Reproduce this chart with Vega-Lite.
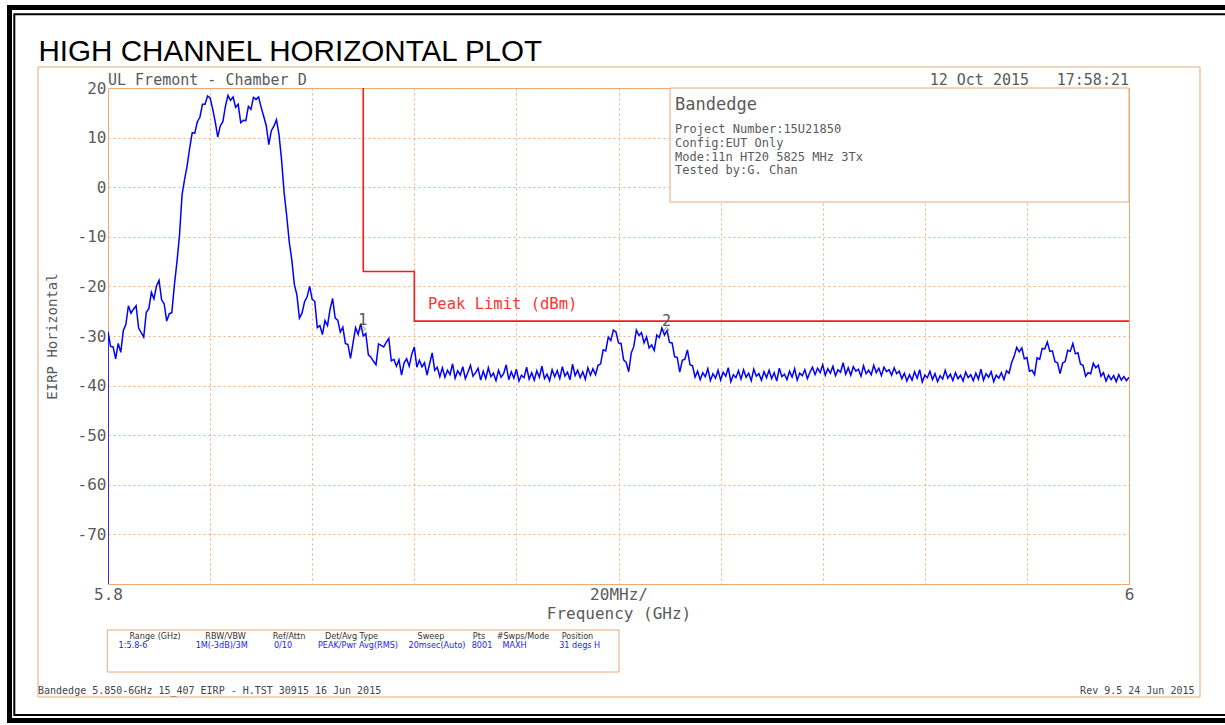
{
"$schema":"https://vega.github.io/schema/vega-lite/v6.json",
"width":1021,"height":496,
"autosize":{"type":"none"},
"padding":{"left":108,"top":88,"right":96,"bottom":141},
"background":"white",
"config":{
 "view":{"stroke":"#e9a877","strokeWidth":1},
 "axis":{"labelFont":"DejaVu Sans Mono","labelFontSize":16,"labelColor":"#5a5a5a","titleFont":"DejaVu Sans Mono","titleFontWeight":"normal","titleColor":"#5a5a5a","grid":true,"gridColor":"#f2ae78","gridDash":[2,3],"gridWidth":1,"ticks":false,"tickSize":0,"domain":false}
},
"datasets":{
"trace":[
{"f":5.8,"p":-80},{"f":5.8,"p":-29.1},{"f":5.8005,"p":-32.1},{"f":5.801,"p":-32.2},{"f":5.8015,"p":-34.6},{"f":5.802,"p":-31.5},{"f":5.8025,"p":-33.3},{"f":5.803,"p":-28.9},{"f":5.8035,"p":-27.7},{"f":5.804,"p":-23.9},{"f":5.8045,"p":-25.4},
{"f":5.805,"p":-24.6},{"f":5.8055,"p":-23.9},{"f":5.806,"p":-28.4},{"f":5.8065,"p":-29.3},{"f":5.807,"p":-30.2},{"f":5.8075,"p":-25.2},{"f":5.808,"p":-24.5},{"f":5.8085,"p":-21.2},{"f":5.809,"p":-22.5},{"f":5.8095,"p":-19.9},
{"f":5.81,"p":-18.8},{"f":5.8105,"p":-22.7},{"f":5.811,"p":-23.5},{"f":5.8115,"p":-27},{"f":5.812,"p":-25.5},{"f":5.8125,"p":-25.3},{"f":5.813,"p":-19.8},{"f":5.8135,"p":-15.1},{"f":5.814,"p":-9.8},{"f":5.8145,"p":-1.6},
{"f":5.815,"p":1.6},{"f":5.8155,"p":4.3},{"f":5.816,"p":7.9},{"f":5.8165,"p":11.0},{"f":5.817,"p":10.9},{"f":5.8175,"p":13.2},{"f":5.818,"p":14.1},{"f":5.8185,"p":16.7},{"f":5.819,"p":16.7},{"f":5.8195,"p":18.4},
{"f":5.82,"p":18.0},{"f":5.8205,"p":15.8},{"f":5.821,"p":13.2},{"f":5.8215,"p":10.1},{"f":5.822,"p":12.4},{"f":5.8225,"p":13.2},{"f":5.823,"p":16.3},{"f":5.8235,"p":18.5},{"f":5.824,"p":17.5},{"f":5.8245,"p":18.2},
{"f":5.825,"p":16.1},{"f":5.8255,"p":16.7},{"f":5.826,"p":13.0},{"f":5.8265,"p":13.5},{"f":5.827,"p":13.4},{"f":5.8275,"p":16.3},{"f":5.828,"p":15.7},{"f":5.8285,"p":18.1},{"f":5.829,"p":17.7},{"f":5.8295,"p":18.2},
{"f":5.83,"p":16.1},{"f":5.8305,"p":14.3},{"f":5.831,"p":12.4},{"f":5.8315,"p":8.6},{"f":5.832,"p":11.4},{"f":5.8325,"p":12.3},{"f":5.833,"p":13.6},{"f":5.8335,"p":10.6},{"f":5.834,"p":5.5},{"f":5.8345,"p":-1.1},
{"f":5.835,"p":-5.7},{"f":5.8355,"p":-11.0},{"f":5.836,"p":-14.6},{"f":5.8365,"p":-19.6},{"f":5.837,"p":-21.7},{"f":5.8375,"p":-26.4},{"f":5.838,"p":-25.4},{"f":5.8385,"p":-23.1},{"f":5.839,"p":-22.1},{"f":5.8395,"p":-20.0},
{"f":5.84,"p":-22.6},{"f":5.8405,"p":-23.0},{"f":5.841,"p":-28.3},{"f":5.8415,"p":-27.9},{"f":5.842,"p":-29.7},{"f":5.8425,"p":-26.9},{"f":5.843,"p":-27.9},{"f":5.8435,"p":-24.6},{"f":5.844,"p":-22.4},{"f":5.8445,"p":-26.4},
{"f":5.845,"p":-26.8},{"f":5.8455,"p":-29.2},{"f":5.846,"p":-28.2},{"f":5.8465,"p":-31.5},{"f":5.847,"p":-31.7},{"f":5.8475,"p":-34.5},{"f":5.848,"p":-31.4},{"f":5.8485,"p":-28.3},{"f":5.849,"p":-29.7},{"f":5.8495,"p":-27.5},
{"f":5.85,"p":-30.0},{"f":5.8505,"p":-29.5},{"f":5.851,"p":-33.8},{"f":5.8515,"p":-34.3},{"f":5.852,"p":-35.1},{"f":5.8525,"p":-35.8},{"f":5.853,"p":-31.6},{"f":5.8535,"p":-31.9},{"f":5.854,"p":-32.2},{"f":5.8545,"p":-31.3},
{"f":5.855,"p":-30.5},{"f":5.8555,"p":-35.0},{"f":5.856,"p":-34.7},{"f":5.8565,"p":-36.1},{"f":5.857,"p":-34.8},{"f":5.8575,"p":-37.9},{"f":5.858,"p":-35.4},{"f":5.8585,"p":-34.6},{"f":5.859,"p":-36.1},{"f":5.8595,"p":-33.7},
{"f":5.86,"p":-32.2},{"f":5.8605,"p":-36.3},{"f":5.861,"p":-34.9},{"f":5.8615,"p":-36.2},{"f":5.862,"p":-35.4},{"f":5.8625,"p":-37.9},{"f":5.863,"p":-35.6},{"f":5.8635,"p":-33.4},{"f":5.864,"p":-36.9},{"f":5.8645,"p":-36.3},
{"f":5.865,"p":-38.2},{"f":5.8655,"p":-36.4},{"f":5.866,"p":-38.3},{"f":5.8665,"p":-36.9},{"f":5.867,"p":-37.8},{"f":5.8675,"p":-35.6},{"f":5.868,"p":-38.5},{"f":5.8685,"p":-37.0},{"f":5.869,"p":-37.9},{"f":5.8695,"p":-36.2},
{"f":5.87,"p":-38.6},{"f":5.8705,"p":-37.3},{"f":5.871,"p":-35.9},{"f":5.8715,"p":-38.1},{"f":5.872,"p":-37.4},{"f":5.8725,"p":-36.5},{"f":5.873,"p":-38.9},{"f":5.8735,"p":-37.1},{"f":5.874,"p":-38.6},{"f":5.8745,"p":-36.4},
{"f":5.875,"p":-38.2},{"f":5.8755,"p":-37.5},{"f":5.876,"p":-39.0},{"f":5.8765,"p":-36.9},{"f":5.877,"p":-38.3},{"f":5.8775,"p":-37.6},{"f":5.878,"p":-35.8},{"f":5.8785,"p":-38.8},{"f":5.879,"p":-37.2},{"f":5.8795,"p":-38.5},
{"f":5.88,"p":-36.7},{"f":5.8805,"p":-39.1},{"f":5.881,"p":-37.9},{"f":5.8815,"p":-38.4},{"f":5.882,"p":-36.3},{"f":5.8825,"p":-38.7},{"f":5.883,"p":-37.4},{"f":5.8835,"p":-38.9},{"f":5.884,"p":-37.0},{"f":5.8845,"p":-38.3},
{"f":5.885,"p":-36.1},{"f":5.8855,"p":-38.6},{"f":5.886,"p":-37.7},{"f":5.8865,"p":-39.0},{"f":5.887,"p":-36.8},{"f":5.8875,"p":-38.2},{"f":5.888,"p":-37.0},{"f":5.8885,"p":-38.6},{"f":5.889,"p":-36.2},{"f":5.8895,"p":-38.1},
{"f":5.89,"p":-37.3},{"f":5.8905,"p":-38.8},{"f":5.891,"p":-35.7},{"f":5.8915,"p":-38.0},{"f":5.892,"p":-36.9},{"f":5.8925,"p":-38.4},{"f":5.893,"p":-37.2},{"f":5.8935,"p":-38.7},{"f":5.894,"p":-36.4},{"f":5.8945,"p":-37.9},
{"f":5.895,"p":-36.6},{"f":5.8955,"p":-37.8},{"f":5.896,"p":-35.9},{"f":5.8965,"p":-35.6},{"f":5.897,"p":-32.8},{"f":5.8975,"p":-33.0},{"f":5.898,"p":-30.2},{"f":5.8985,"p":-30.9},{"f":5.899,"p":-28.8},{"f":5.8995,"p":-29.2},
{"f":5.9,"p":-31.4},{"f":5.9005,"p":-31.5},{"f":5.901,"p":-34.8},{"f":5.9015,"p":-35.3},{"f":5.902,"p":-37.2},{"f":5.9025,"p":-33.4},{"f":5.903,"p":-32.1},{"f":5.9035,"p":-28.8},{"f":5.904,"p":-29.9},{"f":5.9045,"p":-29.3},
{"f":5.905,"p":-31.4},{"f":5.9055,"p":-30.2},{"f":5.906,"p":-32.4},{"f":5.9065,"p":-31.8},{"f":5.907,"p":-32.9},{"f":5.9075,"p":-29.8},{"f":5.908,"p":-30.3},{"f":5.9085,"p":-28.4},{"f":5.909,"p":-29.8},{"f":5.9095,"p":-28.9},
{"f":5.91,"p":-31.3},{"f":5.9105,"p":-31.4},{"f":5.911,"p":-34.2},{"f":5.9115,"p":-34.3},{"f":5.912,"p":-37.3},{"f":5.9125,"p":-34.9},{"f":5.913,"p":-34.7},{"f":5.9135,"p":-32.8},{"f":5.914,"p":-35.8},{"f":5.9145,"p":-36.0},
{"f":5.915,"p":-38.3},{"f":5.9155,"p":-37.1},{"f":5.916,"p":-38.8},{"f":5.9165,"p":-37.4},{"f":5.917,"p":-38.2},{"f":5.9175,"p":-36.6},{"f":5.918,"p":-39.0},{"f":5.9185,"p":-37.6},{"f":5.919,"p":-38.5},{"f":5.9195,"p":-36.9},
{"f":5.92,"p":-38.9},{"f":5.9205,"p":-37.3},{"f":5.921,"p":-38.1},{"f":5.9215,"p":-36.4},{"f":5.922,"p":-39.2},{"f":5.9225,"p":-37.8},{"f":5.923,"p":-38.4},{"f":5.9235,"p":-37.0},{"f":5.924,"p":-38.7},{"f":5.9245,"p":-36.8},
{"f":5.925,"p":-38.3},{"f":5.9255,"p":-37.5},{"f":5.926,"p":-39.0},{"f":5.9265,"p":-36.7},{"f":5.927,"p":-38.1},{"f":5.9275,"p":-37.6},{"f":5.928,"p":-38.9},{"f":5.9285,"p":-37.2},{"f":5.929,"p":-38.4},{"f":5.9295,"p":-36.9},
{"f":5.93,"p":-38.6},{"f":5.9305,"p":-37.4},{"f":5.931,"p":-39.1},{"f":5.9315,"p":-36.5},{"f":5.932,"p":-38.2},{"f":5.9325,"p":-37.7},{"f":5.933,"p":-38.8},{"f":5.9335,"p":-37.1},{"f":5.934,"p":-38.3},{"f":5.9345,"p":-36.6},
{"f":5.935,"p":-38.9},{"f":5.9355,"p":-37.5},{"f":5.936,"p":-38.0},{"f":5.9365,"p":-36.8},{"f":5.937,"p":-38.6},{"f":5.9375,"p":-37.3},{"f":5.938,"p":-36.3},{"f":5.9385,"p":-37.8},{"f":5.939,"p":-36.5},{"f":5.9395,"p":-37.4},
{"f":5.94,"p":-35.8},{"f":5.9405,"p":-37.9},{"f":5.941,"p":-36.6},{"f":5.9415,"p":-37.5},{"f":5.942,"p":-36.1},{"f":5.9425,"p":-38.0},{"f":5.943,"p":-36.8},{"f":5.9435,"p":-37.3},{"f":5.944,"p":-35.4},{"f":5.9445,"p":-37.7},
{"f":5.945,"p":-36.4},{"f":5.9455,"p":-37.9},{"f":5.946,"p":-36.2},{"f":5.9465,"p":-37.1},{"f":5.947,"p":-36.7},{"f":5.9475,"p":-38.1},{"f":5.948,"p":-36.0},{"f":5.9485,"p":-37.6},{"f":5.949,"p":-36.9},{"f":5.9495,"p":-37.8},
{"f":5.95,"p":-35.9},{"f":5.9505,"p":-37.4},{"f":5.951,"p":-36.5},{"f":5.9515,"p":-38.0},{"f":5.952,"p":-36.3},{"f":5.9525,"p":-37.2},{"f":5.953,"p":-36.8},{"f":5.9535,"p":-37.9},{"f":5.954,"p":-36.4},{"f":5.9545,"p":-37.6},
{"f":5.955,"p":-37.1},{"f":5.9555,"p":-38.6},{"f":5.956,"p":-37.5},{"f":5.9565,"p":-39.1},{"f":5.957,"p":-37.8},{"f":5.9575,"p":-38.9},{"f":5.958,"p":-37.2},{"f":5.9585,"p":-38.5},{"f":5.959,"p":-36.8},{"f":5.9595,"p":-39.3},
{"f":5.96,"p":-37.9},{"f":5.9605,"p":-38.4},{"f":5.961,"p":-37.1},{"f":5.9615,"p":-38.8},{"f":5.962,"p":-37.6},{"f":5.9625,"p":-39.2},{"f":5.963,"p":-38.0},{"f":5.9635,"p":-38.7},{"f":5.964,"p":-36.9},{"f":5.9645,"p":-38.5},
{"f":5.965,"p":-37.7},{"f":5.9655,"p":-39.0},{"f":5.966,"p":-37.4},{"f":5.9665,"p":-38.6},{"f":5.967,"p":-37.9},{"f":5.9675,"p":-39.1},{"f":5.968,"p":-37.3},{"f":5.9685,"p":-38.4},{"f":5.969,"p":-37.8},{"f":5.9695,"p":-39.0},
{"f":5.97,"p":-37.5},{"f":5.9705,"p":-38.7},{"f":5.971,"p":-36.7},{"f":5.9715,"p":-38.9},{"f":5.972,"p":-37.6},{"f":5.9725,"p":-38.3},{"f":5.973,"p":-37.2},{"f":5.9735,"p":-39.2},{"f":5.974,"p":-37.9},{"f":5.9745,"p":-38.5},
{"f":5.975,"p":-37.4},{"f":5.9755,"p":-38.8},{"f":5.976,"p":-37.0},{"f":5.9765,"p":-37.5},{"f":5.977,"p":-35.4},{"f":5.9775,"p":-34.1},{"f":5.978,"p":-32.3},{"f":5.9785,"p":-33.2},{"f":5.979,"p":-32.4},{"f":5.9795,"p":-34.6},
{"f":5.98,"p":-34.3},{"f":5.9805,"p":-37.1},{"f":5.981,"p":-36.9},{"f":5.9815,"p":-37.8},{"f":5.982,"p":-34.4},{"f":5.9825,"p":-34.7},{"f":5.983,"p":-32.5},{"f":5.9835,"p":-32.6},{"f":5.984,"p":-31.2},{"f":5.9845,"p":-33.1},
{"f":5.985,"p":-33.0},{"f":5.9855,"p":-35.2},{"f":5.986,"p":-35.4},{"f":5.9865,"p":-37.6},{"f":5.987,"p":-35.5},{"f":5.9875,"p":-35.1},{"f":5.988,"p":-32.9},{"f":5.9885,"p":-33.1},{"f":5.989,"p":-31.5},{"f":5.9895,"p":-33.6},
{"f":5.99,"p":-33.4},{"f":5.9905,"p":-35.7},{"f":5.991,"p":-35.9},{"f":5.9915,"p":-38.1},{"f":5.992,"p":-37.4},{"f":5.9925,"p":-37.6},{"f":5.993,"p":-35.5},{"f":5.9935,"p":-36.4},{"f":5.994,"p":-35.9},{"f":5.9945,"p":-38.1},
{"f":5.995,"p":-37.4},{"f":5.9955,"p":-39.1},{"f":5.996,"p":-37.9},{"f":5.9965,"p":-38.8},{"f":5.997,"p":-38.0},{"f":5.9975,"p":-39.2},{"f":5.998,"p":-37.8},{"f":5.9985,"p":-38.9},{"f":5.999,"p":-38.2},{"f":5.9995,"p":-39.0},
{"f":6.0,"p":-38.3}
],
"limit":[{"k":1,"f":5.85,"p":27},{"k":2,"f":5.85,"p":-17},{"k":3,"f":5.86,"p":-17},{"k":4,"f":5.86,"p":-27},{"k":5,"f":6.0,"p":-27}],
"markers":[{"n":"1","f":5.8499,"p":-28.6},{"n":"2","f":5.9094,"p":-28.8}]
},
"layer":[
{"data":{"values":[{}]},"mark":{"type":"rect","filled":false,"color":"black","strokeWidth":5},
 "encoding":{"x":{"datum":5.780705,"type":"quantitative"},"x2":{"datum":6.03},"y":{"datum":36.23,"type":"quantitative"},"y2":{"datum":-107.52}}},
{"data":{"values":[{}]},"mark":{"type":"rect","filled":false,"color":"black","strokeWidth":2},
 "encoding":{"x":{"datum":5.781645,"type":"quantitative"},"x2":{"datum":6.03},"y":{"datum":34.859,"type":"quantitative"},"y2":{"datum":-106.411}}},
{"data":{"values":[{}]},"mark":{"type":"rect","filled":false,"color":"#e9a877","strokeWidth":1},
 "encoding":{"x":{"datum":5.786288,"type":"quantitative"},"x2":{"datum":6.013908},"y":{"datum":24.234,"type":"quantitative"},"y2":{"datum":-102.782}}},
{"data":{"values":[{}]},"mark":{"type":"rect","fill":"white","stroke":"#e9a877","strokeWidth":1},
 "encoding":{"x":{"datum":5.910088,"type":"quantitative"},"x2":{"datum":6.0},"y":{"datum":20,"type":"quantitative"},"y2":{"datum":-2.984}}},
{"data":{"values":[{}]},"mark":{"type":"rect","fill":"white","stroke":"#e9a877","strokeWidth":1},
 "encoding":{"x":{"datum":5.799863,"type":"quantitative"},"x2":{"datum":5.900098},"y":{"datum":-89.274,"type":"quantitative"},"y2":{"datum":-97.742}}},
{"data":{"name":"trace"},"mark":{"type":"line","color":"#0000ff","strokeWidth":1.5,"clip":true},
 "encoding":{
  "x":{"field":"f","type":"quantitative","scale":{"domain":[5.8,6.0],"nice":false,"zero":false},
   "axis":{"title":"Frequency (GHz)","values":[5.8,5.82,5.84,5.86,5.88,5.9,5.92,5.94,5.96,5.98,6.0],
    "labelExpr":"datum.value < 5.801 ? '5.8' : (datum.value > 5.999 ? '6' : (abs(datum.value - 5.9) < 0.001 ? '20MHz/' : ''))",
    "labelPadding":2,"labelFlush":false,"labelOverlap":false,"labelBound":false,"titleFontSize":16,"titlePadding":3}},
  "y":{"field":"p","type":"quantitative","scale":{"domain":[-80,20],"nice":false,"zero":false},
   "axis":{"title":"EIRP Horizontal","values":[-80,-70,-60,-50,-40,-30,-20,-10,0,10,20],
    "labelExpr":"datum.value <= -80 ? '' : '' + datum.value","labelPadding":2,"labelOverlap":false,"titleFontSize":14,"titlePadding":18}}}},
{"data":{"name":"limit"},"mark":{"type":"line","color":"#ff1a1a","strokeWidth":1.6,"clip":true},
 "encoding":{"x":{"field":"f","type":"quantitative"},"y":{"field":"p","type":"quantitative"},"order":{"field":"k"}}},
{"data":{"name":"markers"},"mark":{"type":"point","shape":"diamond","size":30,"filled":false,"color":"#666666","strokeWidth":1},
 "encoding":{"x":{"field":"f","type":"quantitative"},"y":{"field":"p","type":"quantitative"}}},
{"data":{"name":"markers"},"mark":{"type":"text","font":"DejaVu Sans Mono","fontSize":15,"color":"#555555","baseline":"alphabetic","align":"center","dy":-4},
 "encoding":{"x":{"field":"f","type":"quantitative"},"y":{"field":"p","type":"quantitative"},"text":{"field":"n"}}},
{"data":{"values":[{}]},"mark":{"type":"text","text":"HIGH CHANNEL HORIZONTAL PLOT","font":"Liberation Sans","fontSize":29.6,"color":"black","align":"left","baseline":"alphabetic"},
 "encoding":{"x":{"datum":5.78638,"type":"quantitative"},"y":{"datum":25.44,"type":"quantitative"}}},
{"data":{"values":[{}]},"mark":{"type":"text","text":"UL Fremont - Chamber D","font":"DejaVu Sans Mono","fontSize":15,"color":"#5a5a5a","align":"left","baseline":"alphabetic"},
 "encoding":{"x":{"datum":5.8,"type":"quantitative"},"y":{"datum":20.7,"type":"quantitative"}}},
{"data":{"values":[{}]},"mark":{"type":"text","text":"12 Oct 2015","font":"DejaVu Sans Mono","fontSize":15,"color":"#5a5a5a","align":"right","baseline":"alphabetic"},
 "encoding":{"x":{"datum":5.98042,"type":"quantitative"},"y":{"datum":20.7,"type":"quantitative"}}},
{"data":{"values":[{}]},"mark":{"type":"text","text":"17:58:21","font":"DejaVu Sans Mono","fontSize":15,"color":"#5a5a5a","align":"right","baseline":"alphabetic"},
 "encoding":{"x":{"datum":6.0,"type":"quantitative"},"y":{"datum":20.7,"type":"quantitative"}}},
{"data":{"values":[{}]},"mark":{"type":"text","text":"Bandedge","font":"DejaVu Sans Mono","fontSize":17,"color":"#5a5a5a","align":"left","baseline":"alphabetic"},
 "encoding":{"x":{"datum":5.91107,"type":"quantitative"},"y":{"datum":15.56,"type":"quantitative"}}},
{"data":{"values":[{}]},"mark":{"type":"text","text":"Project Number:15U21850","font":"DejaVu Sans Mono","fontSize":12,"color":"#5a5a5a","align":"left","baseline":"alphabetic"},
 "encoding":{"x":{"datum":5.91107,"type":"quantitative"},"y":{"datum":10.83,"type":"quantitative"}}},
{"data":{"values":[{}]},"mark":{"type":"text","text":"Config:EUT Only","font":"DejaVu Sans Mono","fontSize":12,"color":"#5a5a5a","align":"left","baseline":"alphabetic"},
 "encoding":{"x":{"datum":5.91107,"type":"quantitative"},"y":{"datum":8.1,"type":"quantitative"}}},
{"data":{"values":[{}]},"mark":{"type":"text","text":"Mode:11n HT20 5825 MHz 3Tx","font":"DejaVu Sans Mono","fontSize":12,"color":"#5a5a5a","align":"left","baseline":"alphabetic"},
 "encoding":{"x":{"datum":5.91107,"type":"quantitative"},"y":{"datum":5.38,"type":"quantitative"}}},
{"data":{"values":[{}]},"mark":{"type":"text","text":"Tested by:G. Chan","font":"DejaVu Sans Mono","fontSize":12,"color":"#5a5a5a","align":"left","baseline":"alphabetic"},
 "encoding":{"x":{"datum":5.91107,"type":"quantitative"},"y":{"datum":2.66,"type":"quantitative"}}},
{"data":{"values":[{}]},"mark":{"type":"text","text":"Peak Limit (dBm)","font":"DejaVu Sans Mono","fontSize":15.5,"color":"#ff3333","align":"left","baseline":"alphabetic"},
 "encoding":{"x":{"datum":5.86268,"type":"quantitative"},"y":{"datum":-24.55,"type":"quantitative"}}},
{"data":{"values":[{}]},"mark":{"type":"text","text":"Bandedge 5.850-6GHz 15_407 EIRP - H.TST 30915 16 Jun 2015","font":"DejaVu Sans Mono","fontSize":10,"color":"#444444","align":"left","baseline":"alphabetic"},
 "encoding":{"x":{"datum":5.78629,"type":"quantitative"},"y":{"datum":-102.18,"type":"quantitative"}}},
{"data":{"values":[{}]},"mark":{"type":"text","text":"Rev 9.5 24 Jun 2015","font":"DejaVu Sans Mono","fontSize":10,"color":"#444444","align":"right","baseline":"alphabetic"},
 "encoding":{"x":{"datum":6.01283,"type":"quantitative"},"y":{"datum":-102.18,"type":"quantitative"}}},
{"data":{"values":[{}]},"mark":{"type":"text","text":"Range (GHz)","font":"Liberation Sans Narrow, DejaVu Sans Condensed, DejaVu Sans","fontSize":9,"color":"#333333","align":"center","baseline":"alphabetic"},
 "encoding":{"x":{"datum":5.80921,"type":"quantitative"},"y":{"datum":-91.09,"type":"quantitative"}}},
{"data":{"values":[{}]},"mark":{"type":"text","text":"RBW/VBW","font":"Liberation Sans Narrow, DejaVu Sans Condensed, DejaVu Sans","fontSize":9,"color":"#333333","align":"center","baseline":"alphabetic"},
 "encoding":{"x":{"datum":5.82302,"type":"quantitative"},"y":{"datum":-91.09,"type":"quantitative"}}},
{"data":{"values":[{}]},"mark":{"type":"text","text":"Ref/Attn","font":"Liberation Sans Narrow, DejaVu Sans Condensed, DejaVu Sans","fontSize":9,"color":"#333333","align":"center","baseline":"alphabetic"},
 "encoding":{"x":{"datum":5.83546,"type":"quantitative"},"y":{"datum":-91.09,"type":"quantitative"}}},
{"data":{"values":[{}]},"mark":{"type":"text","text":"Det/Avg Type","font":"Liberation Sans Narrow, DejaVu Sans Condensed, DejaVu Sans","fontSize":9,"color":"#333333","align":"center","baseline":"alphabetic"},
 "encoding":{"x":{"datum":5.8477,"type":"quantitative"},"y":{"datum":-91.09,"type":"quantitative"}}},
{"data":{"values":[{}]},"mark":{"type":"text","text":"Sweep","font":"Liberation Sans Narrow, DejaVu Sans Condensed, DejaVu Sans","fontSize":9,"color":"#333333","align":"center","baseline":"alphabetic"},
 "encoding":{"x":{"datum":5.86327,"type":"quantitative"},"y":{"datum":-91.09,"type":"quantitative"}}},
{"data":{"values":[{}]},"mark":{"type":"text","text":"Pts","font":"Liberation Sans Narrow, DejaVu Sans Condensed, DejaVu Sans","fontSize":9,"color":"#333333","align":"center","baseline":"alphabetic"},
 "encoding":{"x":{"datum":5.87267,"type":"quantitative"},"y":{"datum":-91.09,"type":"quantitative"}}},
{"data":{"values":[{}]},"mark":{"type":"text","text":"#Swps/Mode","font":"Liberation Sans Narrow, DejaVu Sans Condensed, DejaVu Sans","fontSize":9,"color":"#333333","align":"center","baseline":"alphabetic"},
 "encoding":{"x":{"datum":5.88129,"type":"quantitative"},"y":{"datum":-91.09,"type":"quantitative"}}},
{"data":{"values":[{}]},"mark":{"type":"text","text":"Position","font":"Liberation Sans Narrow, DejaVu Sans Condensed, DejaVu Sans","fontSize":9,"color":"#333333","align":"center","baseline":"alphabetic"},
 "encoding":{"x":{"datum":5.89197,"type":"quantitative"},"y":{"datum":-91.09,"type":"quantitative"}}},
{"data":{"values":[{}]},"mark":{"type":"text","text":"1:5.8-6","font":"Liberation Sans Narrow, DejaVu Sans Condensed, DejaVu Sans","fontSize":9,"color":"#1a1aff","align":"center","baseline":"alphabetic"},
 "encoding":{"x":{"datum":5.8049,"type":"quantitative"},"y":{"datum":-92.9,"type":"quantitative"}}},
{"data":{"values":[{}]},"mark":{"type":"text","text":"1M(-3dB)/3M","font":"Liberation Sans Narrow, DejaVu Sans Condensed, DejaVu Sans","fontSize":9,"color":"#1a1aff","align":"center","baseline":"alphabetic"},
 "encoding":{"x":{"datum":5.82227,"type":"quantitative"},"y":{"datum":-92.9,"type":"quantitative"}}},
{"data":{"values":[{}]},"mark":{"type":"text","text":"0/10","font":"Liberation Sans Narrow, DejaVu Sans Condensed, DejaVu Sans","fontSize":9,"color":"#1a1aff","align":"center","baseline":"alphabetic"},
 "encoding":{"x":{"datum":5.83428,"type":"quantitative"},"y":{"datum":-92.9,"type":"quantitative"}}},
{"data":{"values":[{}]},"mark":{"type":"text","text":"PEAK/Pwr Avg(RMS)","font":"Liberation Sans Narrow, DejaVu Sans Condensed, DejaVu Sans","fontSize":9,"color":"#1a1aff","align":"center","baseline":"alphabetic"},
 "encoding":{"x":{"datum":5.84897,"type":"quantitative"},"y":{"datum":-92.9,"type":"quantitative"}}},
{"data":{"values":[{}]},"mark":{"type":"text","text":"20msec(Auto)","font":"Liberation Sans Narrow, DejaVu Sans Condensed, DejaVu Sans","fontSize":9,"color":"#1a1aff","align":"center","baseline":"alphabetic"},
 "encoding":{"x":{"datum":5.86445,"type":"quantitative"},"y":{"datum":-92.9,"type":"quantitative"}}},
{"data":{"values":[{}]},"mark":{"type":"text","text":"8001","font":"Liberation Sans Narrow, DejaVu Sans Condensed, DejaVu Sans","fontSize":9,"color":"#1a1aff","align":"center","baseline":"alphabetic"},
 "encoding":{"x":{"datum":5.87326,"type":"quantitative"},"y":{"datum":-92.9,"type":"quantitative"}}},
{"data":{"values":[{}]},"mark":{"type":"text","text":"MAXH","font":"Liberation Sans Narrow, DejaVu Sans Condensed, DejaVu Sans","fontSize":9,"color":"#1a1aff","align":"center","baseline":"alphabetic"},
 "encoding":{"x":{"datum":5.87963,"type":"quantitative"},"y":{"datum":-92.9,"type":"quantitative"}}},
{"data":{"values":[{}]},"mark":{"type":"text","text":"31 degs H","font":"Liberation Sans Narrow, DejaVu Sans Condensed, DejaVu Sans","fontSize":9,"color":"#1a1aff","align":"center","baseline":"alphabetic"},
 "encoding":{"x":{"datum":5.8924,"type":"quantitative"},"y":{"datum":-92.9,"type":"quantitative"}}}
]
}
